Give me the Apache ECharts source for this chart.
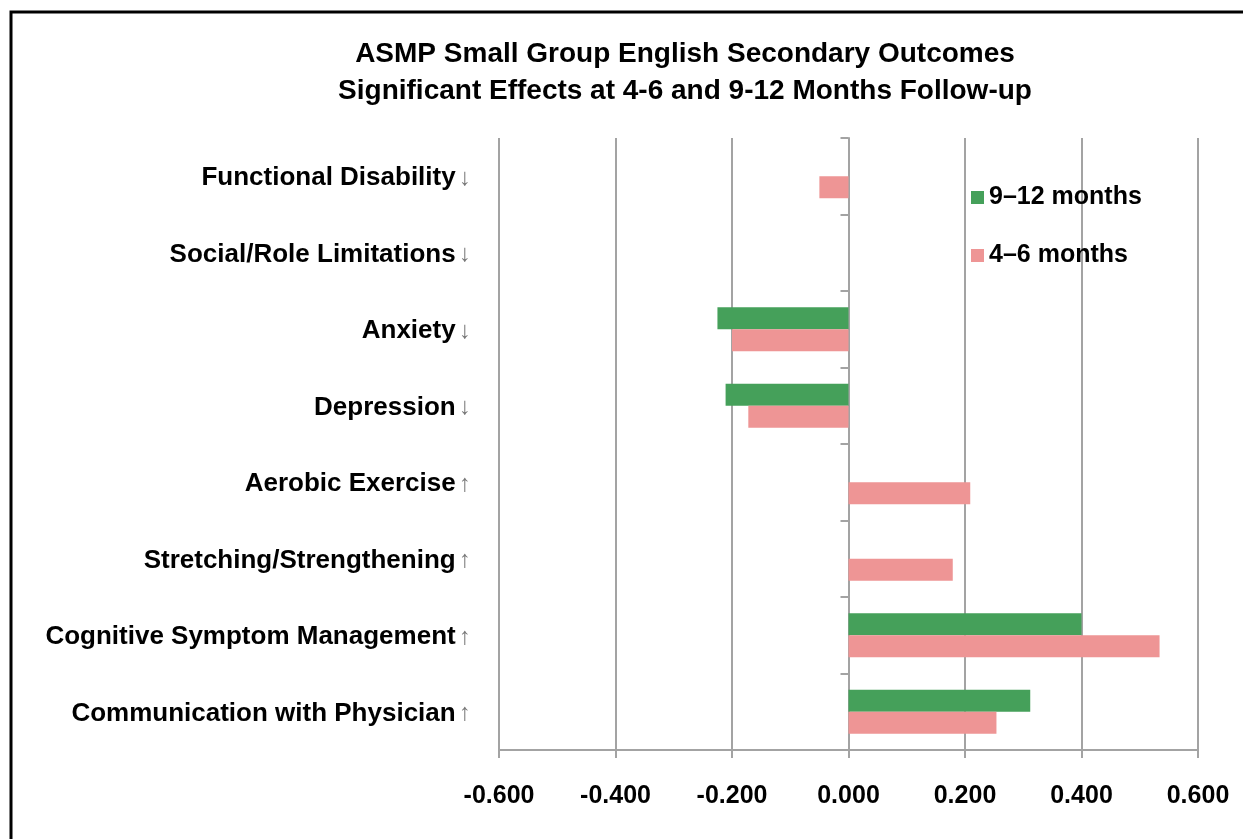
<!DOCTYPE html>
<html>
<head>
<meta charset="utf-8">
<script src="https://cdn.jsdelivr.net/npm/echarts@6/dist/echarts.min.js"></script>
<style>
  html, body { margin: 0; padding: 0; background: #fff; }
  #chart { width: 1243px; height: 839px; }
</style>
</head>
<body>
<div id="chart"></div>
<script>
// categories top to bottom
const outcomes = [
    'Functional Disability',
    'Social/Role Limitations',
    'Anxiety',
    'Depression',
    'Aerobic Exercise',
    'Stretching/Strengthening',
    'Cognitive Symptom Management',
    'Communication with Physician'
];
const arrows = ['↓', '↓', '↓', '↓', '↑', '↑', '↑', '↑'];
const months9to12 = [null, null, -0.225, -0.211, null, null, 0.400, 0.312];
const months4to6 = [-0.050, null, -0.200, -0.172, 0.209, 0.179, 0.534, 0.254];

const chart = echarts.init(document.getElementById('chart'));
const font = '"Liberation Sans", Arial, sans-serif';
const gridColor = '#a3a3a3';

const option = {
    backgroundColor: '#fff',
    animation: false,
    textStyle: { fontFamily: font },
    title: {
        text: 'ASMP Small Group English Secondary Outcomes\nSignificant Effects at 4-6 and 9-12 Months Follow-up',
        left: 680,
        top: 31,
        textAlign: 'center',
        textStyle: {
            fontFamily: font,
            fontSize: 28,
            fontWeight: 'bold',
            color: '#000',
            lineHeight: 37
        }
    },
    legend: {
        orient: 'vertical',
        left: 966,
        top: 180,
        itemWidth: 13,
        itemHeight: 13,
        itemGap: 33,
        icon: 'rect',
        textStyle: {
            fontFamily: font,
            fontSize: 25,
            fontWeight: 'bold',
            color: '#000'
        },
        data: ['9–12 months', '4–6 months']
    },
    grid: {
        left: 499,
        right: 45,
        top: 138,
        bottom: 89,
        containLabel: false,
        outerBoundsMode: 'none'
    },
    xAxis: {
        type: 'value',
        min: -0.6,
        max: 0.6,
        interval: 0.2,
        axisLine: { show: true, lineStyle: { color: gridColor, width: 2 } },
        axisTick: { show: true, length: 8, lineStyle: { color: gridColor, width: 2 } },
        splitLine: { show: true, lineStyle: { color: gridColor, width: 2 } },
        axisLabel: {
            margin: 34,
            fontFamily: font,
            fontSize: 25,
            fontWeight: 'bold',
            color: '#000',
            formatter: v => (Math.abs(v) < 1e-9 ? 0 : v).toFixed(3)
        }
    },
    yAxis: {
        type: 'category',
        inverse: true,
        data: outcomes,
        axisLine: { show: true, onZero: true, lineStyle: { color: gridColor, width: 2 } },
        axisTick: { show: true, length: 8, lineStyle: { color: gridColor, width: 2 } },
        splitLine: { show: false },
        axisLabel: {
            margin: 28,
            formatter: (v, i) => '{t|' + v + '} {a|' + arrows[i] + '}',
            rich: {
                t: { fontFamily: font, fontSize: 26, fontWeight: 'bold', color: '#000', padding: [4, 0, 0, 0] },
                a: { fontFamily: font, fontSize: 24, fontWeight: 'normal', color: '#777', padding: [4, 0, 0, 0] }
            }
        }
    },
    series: [
        {
            name: '9–12 months',
            type: 'bar',
            data: months9to12,
            barWidth: 22,
            barGap: '0%',
            itemStyle: { color: '#45A05A' }
        },
        {
            name: '4–6 months',
            type: 'bar',
            data: months4to6,
            barWidth: 22,
            barGap: '0%',
            itemStyle: { color: '#EE9595' }
        }
    ],
    graphic: [{
        type: 'rect',
        shape: { x: 11, y: 12, width: 1300, height: 900 },
        style: { fill: null, stroke: '#000', lineWidth: 3 },
        silent: true
    }]
};
chart.setOption(option);
</script>
</body>
</html>
